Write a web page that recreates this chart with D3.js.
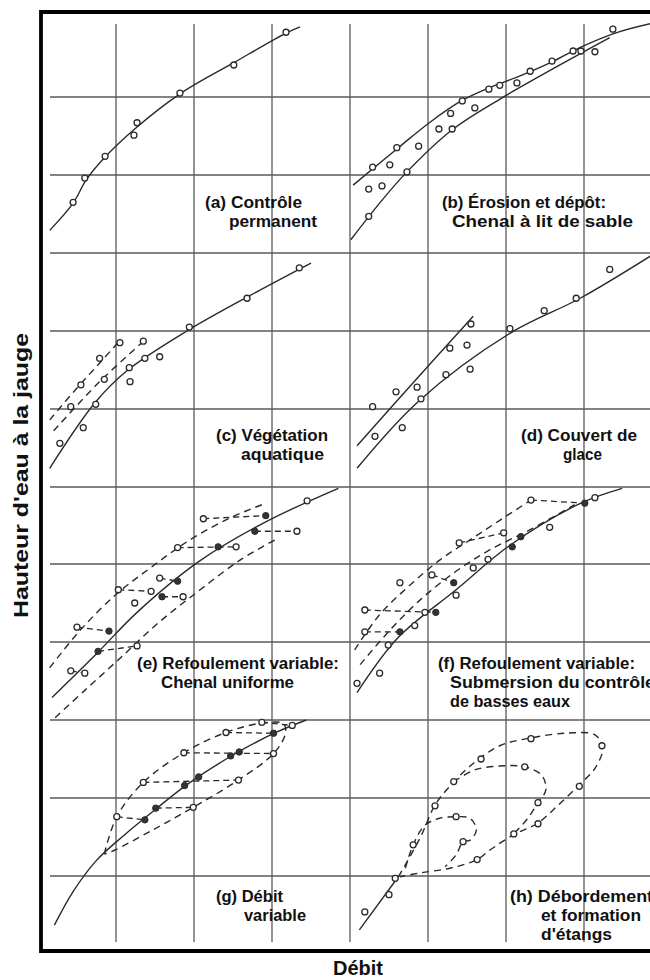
<!DOCTYPE html>
<html>
<head>
<meta charset="utf-8">
<script src="https://cdn.jsdelivr.net/npm/d3@7"></script>
<style>
  body { margin: 0; background: #fff; }
  text { font-family: "Liberation Sans", Arial, sans-serif; fill: #111; }
</style>
</head>
<body>
<svg id="chart" width="650" height="980"></svg>
<script>
// values in grid units: Q (débit) 0..4 across a panel, H (hauteur) 0..3 up a panel

// (a) contrôle permanent
const aCurve = [[0.15,0.29],[0.45,0.64],[0.62,0.94],[0.86,1.23],[1.24,1.59],[1.82,2.04],[2.51,2.44],[3.18,2.82],[3.36,2.90]];
const aOpen = [[0.45,0.65],[0.60,0.96],[0.86,1.24],[1.23,1.51],[1.27,1.67],[1.82,2.05],[2.51,2.41],[3.18,2.83]];

// (b) érosion et dépôt
const bUpper = [[0.04,0.87],[0.62,1.35],[1.03,1.68],[1.41,1.94],[1.79,2.12],[2.18,2.27],[2.59,2.45],[2.96,2.64],[3.40,2.82],[3.85,2.94]];
const bLower = [[0.01,0.17],[0.38,0.64],[0.73,1.04],[1.31,1.58],[1.95,1.99],[2.44,2.27],[2.96,2.56],[3.33,2.76]];
const bOpen = [[0.24,0.82],[0.41,0.86],[0.24,0.47],[0.29,1.10],[0.51,1.13],[0.60,1.35],[0.73,1.04],[0.88,1.37],
  [1.14,1.59],[1.29,1.79],[1.31,1.59],[1.44,1.95],[1.60,1.86],[1.78,2.10],[1.92,2.15],[2.14,2.18],
  [2.31,2.33],[2.59,2.46],[2.86,2.59],[2.96,2.59],[3.14,2.58],[3.37,2.87]];

// (c) végétation aquatique
const cCurve = [[0.15,0.24],[0.73,1.08],[1.14,1.49],[1.91,2.0],[2.71,2.45],[3.5,2.87]];
const cDash1 = [[0.15,0.86],[0.5,1.27],[0.8,1.6],[1.07,1.9]];
const cDash2 = [[0.2,0.72],[0.8,1.36],[1.4,1.91]];
const cOpen = [[0.28,0.56],[0.58,0.76],[0.74,1.06],[1.17,1.53],[1.18,1.35],[1.37,1.65],[1.56,1.67],[1.94,2.05],
  [2.68,2.42],[3.35,2.81],[0.42,1.03],[0.55,1.31],[0.79,1.65],[1.05,1.85],[0.85,1.38],[1.35,1.87]];

// (d) couvert de glace
const dUpper = [[0.09,0.53],[0.83,1.36],[1.58,2.19]];
const dLower = [[0.09,0.24],[0.88,1.10],[2.05,1.97],[2.95,2.42],[3.85,2.96]];
const dOpen = [[0.29,1.03],[0.32,0.65],[0.59,1.22],[0.67,0.76],[0.86,1.28],[0.91,1.13],[1.23,1.44],[1.28,1.78],
  [1.50,1.82],[1.54,1.51],[1.55,2.09],[2.05,2.03],[2.49,2.26],[2.90,2.42],[3.33,2.79]];

// (e) refoulement variable, chenal uniforme
const eCurve = [[0.18,0.29],[0.77,0.87],[1.27,1.38],[2.06,2.03],[2.92,2.54],[3.85,2.97]];
const eDashUp = [[0.15,0.67],[0.54,1.15],[0.99,1.60],[1.44,1.95],[1.95,2.31],[2.46,2.59],[2.87,2.76]];
const eDashLow = [[0.22,0.03],[0.60,0.38],[1.05,0.79],[1.56,1.26],[2.08,1.67],[2.59,2.05],[3.04,2.31]];
const eOpen = [[0.50,1.19],[1.27,0.95],[0.42,0.63],[0.60,0.60],[1.24,1.50],[1.03,1.67],[1.45,1.65],[1.86,1.58],
  [1.56,1.82],[1.79,2.21],[2.54,2.22],[2.12,2.58],[3.32,2.42],[3.45,2.81]];
const eFilled = [[0.91,1.14],[0.77,0.88],[1.59,1.58],[1.79,1.78],[2.31,2.22],[2.92,2.62],[2.78,2.42]];
const eLinks = [[[0.50,1.19],[0.91,1.14]],[[0.77,0.88],[1.27,0.95]],[[0.42,0.63],[0.60,0.60]],[[1.03,1.67],[1.45,1.65]],
  [[1.59,1.58],[1.86,1.58]],[[1.56,1.82],[1.79,1.78]],[[1.79,2.21],[2.54,2.22]],[[2.12,2.58],[2.92,2.62]],[[2.78,2.42],[3.32,2.42]]];

// (f) refoulement variable, submersion du contrôle
const fCurve = [[0.09,0.35],[0.62,1.06],[1.36,1.67],[2.05,2.24],[2.96,2.78],[3.49,2.97]];
const fDashA = [[0.06,0.90],[0.38,1.35],[0.77,1.73],[1.15,2.05],[1.54,2.31],[1.92,2.56],[2.32,2.82]];
const fDashB = [[0.13,0.71],[0.51,1.15],[0.90,1.54],[1.35,1.90],[1.79,2.18],[2.31,2.44],[2.88,2.76]];
const fOpen = [[0.09,0.47],[0.38,0.60],[0.49,0.96],[0.19,1.13],[0.83,1.21],[0.19,1.41],[0.96,1.38],[0.64,1.76],
  [1.05,1.86],[1.36,1.60],[1.58,1.95],[1.77,2.06],[1.40,2.27],[1.97,2.40],[2.56,2.47],[2.32,2.82],[3.14,2.85]];
const fFilled = [[0.64,1.13],[1.10,1.38],[1.33,1.76],[2.19,2.35],[2.08,2.22],[3.01,2.78]];
const fLinks = [[[0.19,1.13],[0.64,1.13]],[[0.19,1.41],[1.10,1.38]],[[1.05,1.86],[1.33,1.76]],[[1.40,2.27],[1.97,2.40]],
  [[2.32,2.82],[3.01,2.78]]];

// (g) débit variable
const gCurve = [[0.21,0.37],[0.45,0.80],[0.75,1.20],[1.10,1.52],[1.50,1.85],[1.95,2.20],[2.55,2.58],[3.05,2.84],[3.44,3.0]];
const gLoop = [[0.85,1.28],[1.01,1.76],[1.35,2.20],[1.87,2.58],[2.41,2.84],[2.87,2.96],[3.15,2.95],
  [3.17,2.82],[3.02,2.57],[2.57,2.23],[1.99,1.88],[1.47,1.59],[0.98,1.33],[0.85,1.28]];
const gOpen = [[1.01,1.76],[1.99,1.88],[1.35,2.20],[2.57,2.23],[1.87,2.58],[3.02,2.57],[2.41,2.84],[2.87,2.97],[3.26,2.93]];
const gFilled = [[1.37,1.72],[1.51,1.87],[1.88,2.16],[2.06,2.27],[2.47,2.54],[2.58,2.59],[3.02,2.83]];
const gLinks = [[[1.01,1.76],[1.37,1.72]],[[1.51,1.87],[1.99,1.88]],[[1.35,2.20],[2.57,2.23]],[[1.87,2.58],[3.02,2.57]],
  [[2.41,2.84],[3.02,2.83]],[[2.87,2.97],[3.26,2.93]]];

// (h) débordement et formation d'étangs
const hCurve = [[0.12,0.31],[0.62,0.99]];
const hOuter = [[0.62,0.99],[0.90,1.49],[1.09,1.91],[1.28,2.15],[1.54,2.41],[1.92,2.67],[2.32,2.77],[2.76,2.83],[3.14,2.81],
  [3.24,2.64],[3.14,2.38],[2.94,2.17],[2.67,1.91],[2.41,1.68],[2.10,1.53],[1.79,1.33],[1.63,1.21],[1.28,1.10],[0.90,1.04],[0.64,0.99]];
const hMiddle = [[1.33,2.21],[1.60,2.36],[1.92,2.41],[2.24,2.40],[2.46,2.29],[2.51,2.10],[2.41,1.94],[2.28,1.74],[2.10,1.54]];
const hInner = [[0.71,1.10],[0.81,1.40],[0.96,1.65],[1.15,1.74],[1.36,1.76],[1.54,1.74],[1.62,1.59],[1.54,1.46],[1.45,1.44],[1.36,1.27],[1.22,1.12]];
const hOpen = [[0.19,0.54],[0.50,0.76],[0.58,0.97],[0.81,1.40],[1.09,1.90],[1.33,2.21],[1.68,2.50],[2.32,2.76],[3.23,2.67],
  [2.94,2.15],[2.41,1.67],[2.10,1.54],[1.63,1.21],[1.36,1.76],[1.45,1.44],[2.24,2.40],[2.41,1.94]];

// panel captions
const aLabel = ["(a) Contrôle", "permanent"];
const bLabel = ["(b) Érosion et dépôt:", "Chenal à lit de sable"];
const cLabel = ["(c) Végétation", "aquatique"];
const dLabel = ["(d) Couvert de", "glace"];
const eLabel = ["(e) Refoulement variable:", "Chenal uniforme"];
const fLabel = ["(f) Refoulement variable:", "Submersion du contrôle", "de basses eaux"];
const gLabel = ["(g) Débit", "variable"];
const hLabel = ["(h) Débordement", "et formation", "d'étangs"];

const yTitle = "Hauteur d'eau à la jauge";
const xTitle = "Débit";

const panels = [
  {col:0,row:0, solid:[aCurve], dashed:[], links:[], open:aOpen, filled:[], label:aLabel,
    lx:[205,229], lw:[97,88]},
  {col:1,row:0, solid:[bUpper,bLower], dashed:[], links:[], open:bOpen, filled:[], label:bLabel,
    lx:[442,452], lw:[164,181]},
  {col:0,row:1, solid:[cCurve], dashed:[cDash1,cDash2], links:[], open:cOpen, filled:[], label:cLabel,
    lx:[216,241], lw:[112,83]},
  {col:1,row:1, solid:[dUpper,dLower], dashed:[], links:[], open:dOpen, filled:[], label:dLabel,
    lx:[521,563], lw:[116,39]},
  {col:0,row:2, solid:[eCurve], dashed:[eDashUp,eDashLow], links:eLinks, open:eOpen, filled:eFilled, label:eLabel,
    lx:[137,161], lw:[202,133]},
  {col:1,row:2, solid:[fCurve], dashed:[fDashA,fDashB], links:fLinks, open:fOpen, filled:fFilled, label:fLabel,
    lx:[438,450,450], lw:[197,205,120]},
  {col:0,row:3, solid:[gCurve], dashed:[gLoop], links:gLinks, open:gOpen, filled:gFilled, label:gLabel,
    lx:[216,244], lw:[67,62]},
  {col:1,row:3, solid:[hCurve], dashed:[hOuter,hMiddle,hInner], links:[], open:hOpen, filled:[], label:hLabel,
    lx:[510,541,541], lw:[143,100,71]}
];

const svg = d3.select("#chart");
const U = 78;
const colLeft = [38, 350];
const rowBottom = [253, 487, 720, 954];
const captionBase = [[208,227,246],[441,460,479],[669,688,707],[902,921,940]];

function scalesFor(col, row) {
  const x = d3.scaleLinear().domain([0, 4]).range([colLeft[col], colLeft[col] + 4 * U]);
  const y = d3.scaleLinear().domain([0, 3]).range([rowBottom[row], rowBottom[row] - 3 * U]);
  return {x, y};
}

// grid
const grid = svg.append("g").attr("stroke", "#5a5a5a").attr("stroke-width", 1.3);
[0,1,2,3].forEach(row => {
  const {y} = scalesFor(0, row);
  [0,1,2].filter(h => !(row === 3 && h === 0)).forEach(h => {
    grid.append("line").attr("x1", 50).attr("x2", 650).attr("y1", y(h)).attr("y2", y(h));
  });
});
[0,1].forEach(col => {
  const {x} = scalesFor(col, 0);
  [1,2,3,4].forEach(q => {
    grid.append("line").attr("x1", x(q)).attr("x2", x(q)).attr("y1", 24).attr("y2", 942);
  });
});

// panels
panels.forEach(p => {
  const {x, y} = scalesFor(p.col, p.row);
  const g = svg.append("g");
  const line = d3.line().x(d => x(d[0])).y(d => y(d[1])).curve(d3.curveCatmullRom.alpha(0.5));

  g.selectAll(".solid").data(p.solid).join("path")
    .attr("d", line).attr("fill", "none").attr("stroke", "#2a2a2a").attr("stroke-width", 1.4);

  g.selectAll(".dashed").data(p.dashed).join("path")
    .attr("d", line).attr("fill", "none").attr("stroke", "#2a2a2a").attr("stroke-width", 1.4)
    .attr("stroke-dasharray", "7,5");

  g.selectAll(".link").data(p.links).join("line")
    .attr("x1", d => x(d[0][0])).attr("y1", d => y(d[0][1]))
    .attr("x2", d => x(d[1][0])).attr("y2", d => y(d[1][1]))
    .attr("stroke", "#2a2a2a").attr("stroke-width", 1.3).attr("stroke-dasharray", "6,4");

  g.selectAll(".open").data(p.open).join("circle")
    .attr("cx", d => x(d[0])).attr("cy", d => y(d[1])).attr("r", 3)
    .attr("fill", "#fff").attr("stroke", "#2a2a2a").attr("stroke-width", 1.3);

  g.selectAll(".filled").data(p.filled).join("circle")
    .attr("cx", d => x(d[0])).attr("cy", d => y(d[1])).attr("r", 3.2)
    .attr("fill", "#333").attr("stroke", "#2a2a2a").attr("stroke-width", 1);

  p.label.forEach((t, i) => {
    g.append("text").attr("x", p.lx[i]).attr("y", captionBase[p.row][i])
      .attr("font-size", 16).attr("font-weight", "bold")
      .attr("textLength", p.lw[i]).attr("lengthAdjust", "spacingAndGlyphs")
      .text(t);
  });
});

// frame
svg.append("path")
  .attr("d", "M660,12 H41 V951 H660")
  .attr("fill", "none").attr("stroke", "#000").attr("stroke-width", 3.8);

// axis titles
svg.append("text")
  .attr("transform", "translate(28,618) rotate(-90)")
  .attr("font-size", 20).attr("font-weight", "bold")
  .attr("textLength", 285).attr("lengthAdjust", "spacingAndGlyphs")
  .text(yTitle);

svg.append("text")
  .attr("x", 358).attr("y", 975).attr("text-anchor", "middle")
  .attr("font-size", 20).attr("font-weight", "bold")
  .text(xTitle);
</script>
</body>
</html>
